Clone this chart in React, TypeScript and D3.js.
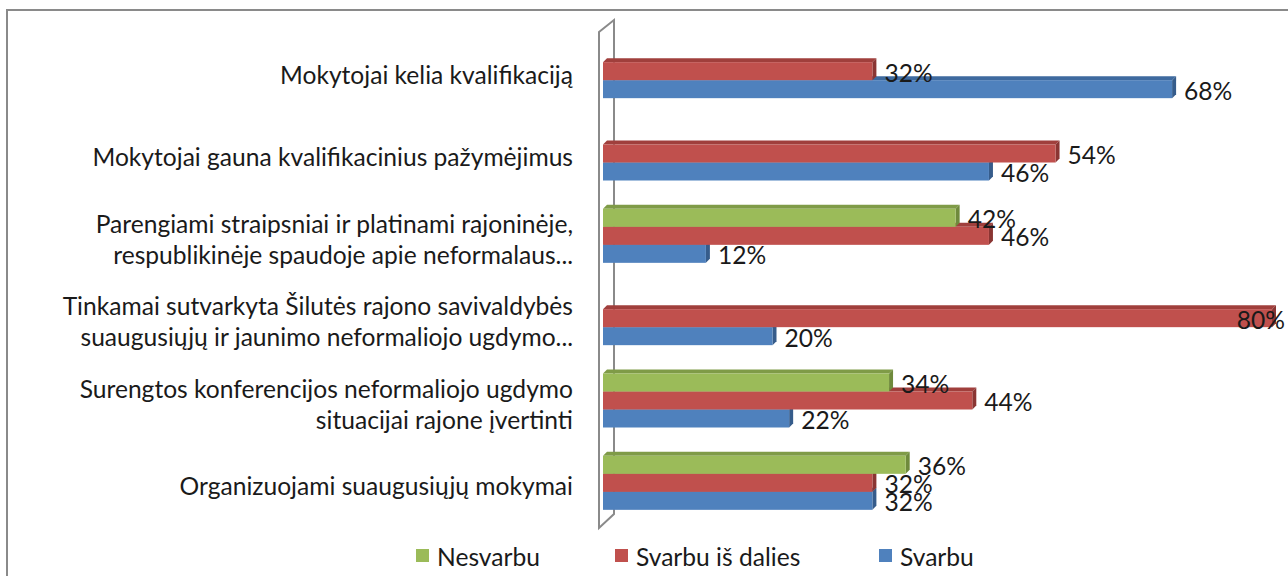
import { useEffect, useRef } from "react";
import * as d3 from "d3";

const categories = [
  ["Mokytojai kelia kvalifikaciją"],
  ["Mokytojai gauna kvalifikacinius pažymėjimus"],
  ["Parengiami straipsniai ir platinami rajoninėje,", "respublikinėje spaudoje apie neformalaus..."],
  ["Tinkamai sutvarkyta Šilutės rajono savivaldybės", "suaugusiųjų ir jaunimo neformaliojo ugdymo..."],
  ["Surengtos konferencijos neformaliojo ugdymo", "situacijai rajone įvertinti"],
  ["Organizuojami suaugusiųjų mokymai"],
];

const seriesNames = ["Nesvarbu", "Svarbu iš dalies", "Svarbu"];

// null = no bar in that slot
const nesvarbu = [null, null, 0.42, null, 0.34, 0.36];
const svarbuIsDalies = [0.32, 0.54, 0.46, 0.8, 0.44, 0.32];
const svarbu = [0.68, 0.46, 0.12, 0.2, 0.22, 0.32];

const colors = ["#9BBB59", "#C0504D", "#4F81BD"];
const topColors = ["#7f9b47", "#a03f3c", "#3e6a9f"];
const sideColors = ["#6f8a3c", "#8a3533", "#365c8b"];

export default function App() {
  const svgRef = useRef(null);

  useEffect(() => {
    const width = 1288;
    const height = 576;
    const svg = d3.select(svgRef.current);
    svg.selectAll("*").remove();
    svg.attr("width", width).attr("height", height);

    const font = "Lato, 'Noto Sans', sans-serif";
    const fontSize = 24.6;
    const textColor = "#1a1a1a";

    // outer chart border (runs off the right / bottom of the picture)
    svg
      .append("rect")
      .attr("x", 7)
      .attr("y", 10)
      .attr("width", 1320)
      .attr("height", 620)
      .attr("fill", "#fff")
      .attr("stroke", "#8a8a8a")
      .attr("stroke-width", 2);

    const xScale = d3.scaleLinear().domain([0, 0.8]).range([606, 1272]);
    const yScale = d3
      .scaleBand()
      .domain(categories.map((d, i) => String(i)))
      .range([30, 524]);
    const slot = d3.scaleBand().domain(seriesNames).range([-27, 27]);

    // side wall of the 3D plot
    const wallX = 599;
    const depth = 15;
    svg
      .append("path")
      .attr(
        "d",
        `M${wallX},32 L${wallX + depth},20 L${wallX + depth},514 L${wallX},528 Z`
      )
      .attr("fill", "none")
      .attr("stroke", "#8a8a8a")
      .attr("stroke-width", 2);

    const d = 4;
    const all = [nesvarbu, svarbuIsDalies, svarbu];

    // draw bottom slot first so upper bars cover lower top faces
    [2, 1, 0].forEach((s) => {
      const g = svg.append("g");
      all[s].forEach((v, i) => {
        if (v == null) return;
        const cy = yScale(String(i)) + yScale.bandwidth() / 2;
        const y0 = cy + slot(seriesNames[s]);
        const y1 = y0 + slot.bandwidth();
        const x0 = xScale(0) - 3;
        const x1 = xScale(v);
        g.append("path")
          .attr("d", `M${x0},${y0} L${x0 + d},${y0 - d} L${x1 + d},${y0 - d} L${x1},${y0} Z`)
          .attr("fill", topColors[s]);
        g.append("path")
          .attr("d", `M${x1},${y0} L${x1 + d},${y0 - d} L${x1 + d},${y1 - d} L${x1},${y1} Z`)
          .attr("fill", sideColors[s]);
        g.append("rect")
          .attr("x", x0)
          .attr("y", y0)
          .attr("width", x1 - x0)
          .attr("height", y1 - y0)
          .attr("fill", colors[s]);
      });
    });

    // data labels
    [2, 1, 0].forEach((s) => {
      all[s].forEach((v, i) => {
        if (v == null) return;
        const cy = yScale(String(i)) + yScale.bandwidth() / 2;
        const y = cy + slot(seriesNames[s]) + slot.bandwidth() / 2 + 1;
        let x = xScale(v) + 12;
        let anchor = "start";
        if (x + 48 > width - 2) {
          x = width - 3;
          anchor = "end";
        }
        svg
          .append("text")
          .attr("x", x)
          .attr("y", y)
          .attr("dominant-baseline", "central")
          .attr("text-anchor", anchor)
          .attr("font-family", font)
          .attr("font-size", fontSize)
          .attr("fill", textColor)
          .text(d3.format(".0%")(v));
      });
    });

    // category labels
    categories.forEach((lines, i) => {
      const cy = yScale(String(i)) + yScale.bandwidth() / 2 + 3;
      const lh = 31;
      const t = svg
        .append("text")
        .attr("text-anchor", "end")
        .attr("font-family", font)
        .attr("font-size", fontSize)
        .attr("fill", textColor);
      lines.forEach((ln, k) => {
        t.append("tspan")
          .attr("x", 573)
          .attr("y", cy + (k - (lines.length - 1) / 2) * lh)
          .attr("dominant-baseline", "central")
          .text(ln);
      });
    });

    // legend
    const legendX = [416, 615, 879];
    seriesNames.forEach((name, s) => {
      svg
        .append("rect")
        .attr("x", legendX[s])
        .attr("y", 549)
        .attr("width", 13)
        .attr("height", 13)
        .attr("fill", colors[s]);
      svg
        .append("text")
        .attr("x", legendX[s] + 21)
        .attr("y", 556)
        .attr("dominant-baseline", "central")
        .attr("font-family", font)
        .attr("font-size", fontSize)
        .attr("fill", textColor)
        .text(name);
    });
  }, []);

  return (
    <div style={{ position: "fixed", left: 0, top: 0, width: 1288, height: 576, background: "#fff" }}>
      <svg ref={svgRef}></svg>
    </div>
  );
}
